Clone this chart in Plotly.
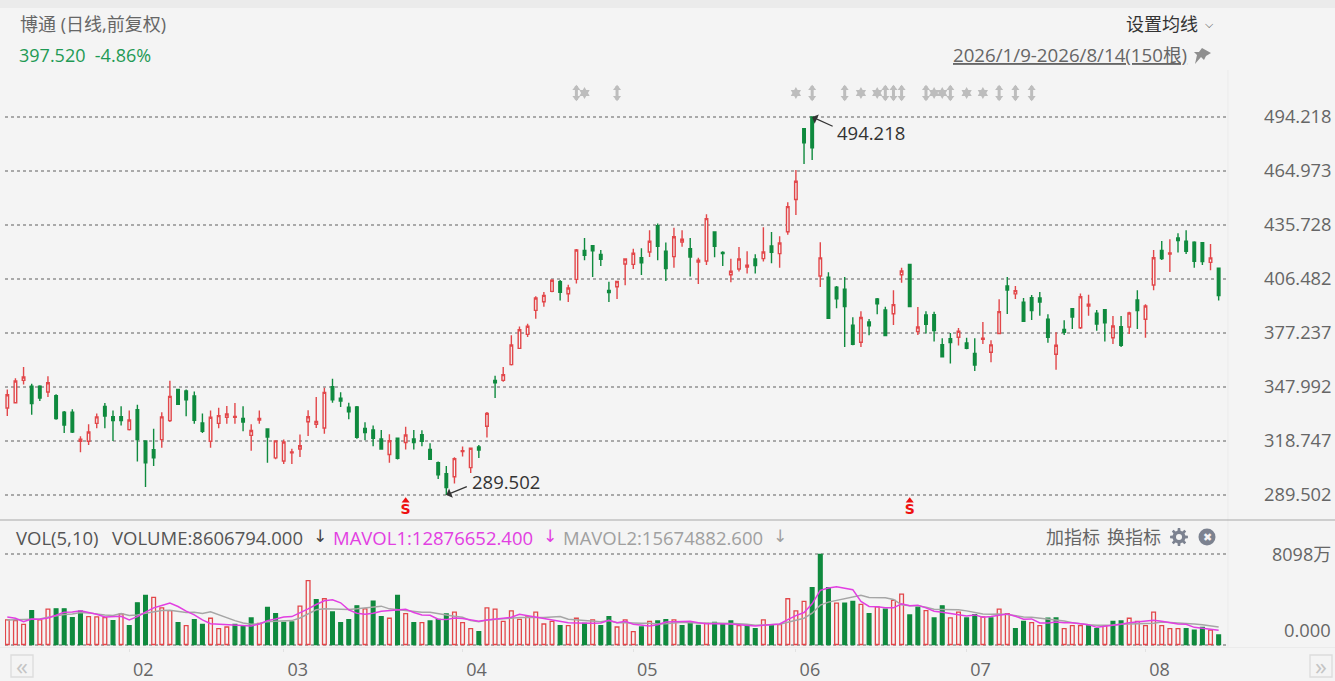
import math
import plotly.graph_objects as go

W, H = 1335, 681
FONT = "Open Sans, Noto Sans CJK SC"

price_ticks = [289.502, 318.747, 347.992, 377.237, 406.482, 435.728, 464.973, 494.218]
month_labels = ["02", "03", "04", "05", "06", "07", "08"]
month_first_bar = [16, 35, 57, 78, 98, 119, 141]
bar_no = list(range(1, 151))

open_ = [336.6,339.5,351.6,348.4,348.4,345.3,343.3,334.3,334.3,318.6,
318.6,328.3,337.5,331.9,331.9,324.9,335.7,318.8,314.1,319.5,
329.8,346.6,345.8,343.1,328.5,318.6,328.3,331.6,331.6,330.9,
321.8,330.1,325.3,309.6,307.9,312.3,314.4,329.2,327.8,325.8,
348.2,341.9,337,337.2,325.6,324.7,319.8,311.4,320.2,317.9,
319.8,322.2,314.2,307,301.1,299.4,313,304.3,315.5,326.7,
351.6,351.6,360.1,368.9,376.5,389.5,394.2,399.8,405,398.5,
406.3,422,424.5,419.8,400.3,402.3,414.6,414.4,418,421.1,
435.4,421.5,418.6,426.5,422.9,415.7,416.2,431.9,420.8,408.8,
411.9,413,417.3,417.5,424.4,420.2,432.1,449.5,487.9,494.2,
408.1,407.4,402,400.9,381.4,372.2,383.2,395.7,389.7,387.7,
408.8,414.4,378,387,387.2,370.9,374.2,374.9,371.8,366.1,
373.8,366.8,377,402.7,398.4,393.9,396.4,396.2,384.7,365.7,
379.2,390.4,380.1,391.9,387.9,389.9,374.7,380.7,380.5,395.1,
384.7,403.2,422,420,428.7,426.9,426.4,426.2,415.5,412.3]
close = [343.8,351.2,353.4,339,342,350.3,330.9,327.4,323.6,319.7,
323.6,331.8,332.3,329.8,329.8,330.1,319.5,307,309.6,331.8,
342.9,338.6,341.1,330,324,331.6,332.5,333.4,332.1,329,
324.4,330.9,320.9,318.8,318.2,312.8,316.2,331.9,329.4,345.1,
341,340.4,334.6,320.7,323.3,320.2,314.4,318.9,309.4,322,
317.9,318.6,308.8,300.5,293.5,309.2,313.5,314.8,313.9,333.7,
350.2,354.7,370.7,379,380.9,396.2,397.6,405.8,399.3,401.6,
422.2,419.3,421.8,417.1,399.1,405.1,417.3,420.4,415.3,426.9,
424.2,412.1,429.4,428,418.4,416.6,439.2,424.2,420.2,410.7,
417.3,413.9,413.7,421.1,420.9,426,445.7,459.4,480.3,477.6,
417.9,385.2,395.7,391.5,371.1,385.6,381.2,393.1,375.8,392.6,
410.8,391.5,380.5,382,378.5,364.4,372,378.2,368.9,359.9,
374.4,370.8,388.8,400.5,400.2,383.6,389.4,394,374.9,370.6,
377.6,385.9,396.9,392.8,382.1,382.7,381,370.6,388.1,389.4,
391.9,418,417.5,420.6,427.3,421.5,416.1,415.9,417.9,397.5]
high = [346.6,352.7,358.8,349.8,348.9,353.8,344,335,335.9,321.3,
327.8,333.6,339.3,335.2,337.5,335.2,338.4,318.8,325.4,334.3,
351.4,347.1,346.6,345.5,333.6,335.2,336.8,337.7,339.3,337.5,
327.8,335.2,325.4,318.9,319.5,314.6,322.2,335.4,342.6,347.6,
352.5,345.1,339.5,337.7,328.9,327.1,324.7,322.4,320.7,326.5,
324.7,324.5,317.5,307.6,305.2,309.9,315.7,315.1,316.6,334.5,
354.1,358.8,376,380.7,382.3,397.1,399.4,406.3,405.9,403.4,
422.7,428.7,424.9,422.2,405,405.1,417.7,422.9,423.1,432.9,
436.6,426.2,434.3,432.9,428.7,418,441.5,432.1,421.5,417.5,
423.8,421.5,419.9,434.5,431.9,429.6,448,465.5,488.1,494.2,
426.4,410.1,402.7,407.6,385.7,389,384.8,396.2,391.5,400.4,
412.6,414.8,391.3,389,388.8,374.4,377.3,380,374.6,374.4,
383.2,373.3,395.5,407.6,402.7,396.2,397.8,399.5,387.4,377.6,
384.1,390.4,398.6,398,389.7,390.3,386.5,386.5,388.8,400.4,
392.8,422.2,427.1,428,431.2,432.9,426.9,426.4,425.5,412.5]
low = [332.3,339,349.3,333,340.4,342.6,330.3,323.1,323.1,312.6,
316.6,325.6,325.6,318.8,327.2,324.4,307.7,293.9,305.2,315.1,
329,338.6,332.1,328.1,323.1,315.1,325.6,328.1,328.1,324,
313.5,328.1,307,308.8,306.3,306.3,310.1,321.5,325.8,322.7,
339.5,337.2,330.5,320,319.1,315.9,314.2,307,308.7,314.2,
314.2,315.9,308.5,298.2,289.5,295.7,310.3,301.4,309.6,320.7,
342,350.9,359.7,368.8,375.1,385,391.5,399.3,394.9,394,
404,416.6,407.6,413.5,394,395.7,403.1,411.9,408.7,418.4,
416.6,405.4,412.6,424,407.8,403.8,414.1,418.2,413.5,404.7,
410.5,409.4,409.4,415.9,415,412.6,430.5,441.2,468.8,470.9,
402.2,385,390.6,369.7,370.6,369.7,376,387.4,375.5,381.6,
404.5,391.3,376.2,376.9,372.7,364.1,360.7,370.4,368.4,356.7,
371.3,361.4,377,387.5,395.7,383.4,384.3,386.6,372,357.4,
376.2,379.4,379.4,386.6,378.5,372.7,371.3,369.7,376.7,379.4,
374.6,400.4,416.8,410.3,420.8,420,412.6,414.1,411.2,394.9]

# volumes in units of 10,000 shares (万)
volume = [2205,2144,1812,3050,2205,3171,3201,3201,2416,2990,
2507,2476,2416,2144,2748,1691,3745,4409,4228,3292,
3050,1963,1691,2235,1812,2356,1419,1570,1812,1691,
2386,1903,3322,2778,1993,2023,3443,5738,4017,4107,
2929,1963,2235,3473,3201,3896,2507,2356,4409,2778,
1963,1963,2114,2265,2748,2899,1963,1419,1148,3292,
3171,2084,3020,2265,2476,2899,1842,2084,1691,1691,
2356,1903,2205,1691,2507,1570,2205,1148,1570,2084,
2114,2235,2205,1691,1993,1721,1903,1993,1842,2114,
1691,1691,1419,2205,1691,1782,4107,3020,3866,5104,
8098,5104,3715,3715,3866,3594,2778,3382,3171,3956,
4530,2658,3352,3050,2386,3473,2386,2899,2386,2688,
2476,2386,3171,2778,1419,2084,1963,1691,2356,2386,
1419,1691,1691,1691,1419,1691,2084,2114,2356,2084,
1691,2899,1691,1419,1419,1419,1299,1540,1299,861]
volume_side = ("RRRGRRGGGG" "RRRGRGGGRR" "RGRGGRRRGG" "GRGGGGRRGR" "GGGGRGGRGR"
               "GRGGGRRRGR" "RRRRRRRRGR" "RGRGGRRRGR" "GGRGGGRGGG" "RGGRGRRRRG"
               "GGRGGRGRGR" "RGGRGGRRGG" "RGRRGGRRGG" "RRRGGRGGRR" "RRRRRGGGRG")
mavol1 = [2476,2356,2054,2295,2265,2386,2627,2899,2929,3020,
2869,2718,2476,2476,2537,2205,2507,2899,3292,3503,
3715,3413,2990,2658,2205,1872,1842,1782,1752,1691,
1661,1842,2144,2295,2476,2507,2839,3201,3594,3926,
4017,3745,3111,2809,2718,2809,2990,3050,3111,3171,
2869,2658,2627,2265,2235,2386,2325,2205,2084,2205,
2295,2325,2446,2718,2597,2507,2386,2265,2144,1963,
1933,1903,1903,1933,2174,1963,2084,1812,1721,1661,
1782,2023,2054,2084,2084,1963,1872,1872,1872,1842,
1782,1721,1661,1721,1782,1842,2235,2597,2869,3654,
4862,5074,5194,5074,4923,3866,3413,3382,3292,3292,
3654,3473,3533,3292,2990,2899,2809,2688,2567,2658,
2446,2507,2658,2748,2537,2265,2295,1933,1933,2023,
1963,1963,1872,1782,1540,1631,1691,1812,1963,2054,
2084,2174,2084,1963,1842,1812,1540,1450,1389,1288]
mavol2 = [2205,2235,2265,2295,2295,2446,2597,2688,2748,2869,
2839,2718,2658,2597,2778,2597,2658,2809,2929,3050,
3080,2960,2869,2899,2778,2929,2658,2416,2144,1933,
1812,1872,2054,2084,2084,2144,2386,2778,3111,3201,
3171,3141,3141,3201,3292,3413,3443,3201,3111,3050,
2929,2899,2899,2748,2658,2537,2446,2144,2054,2205,
2265,2325,2356,2416,2416,2386,2416,2476,2507,2265,
2205,2144,2144,2054,2144,1963,1963,1903,1903,1903,
1842,1872,1963,1993,1963,1903,1903,1933,1933,1933,
1872,1812,1721,1752,1782,1812,1993,2205,2356,2809,
3533,3805,3956,4107,4319,4409,4228,4228,4198,4047,
3564,3473,3473,3352,3171,3141,3141,3111,3020,2869,
2748,2718,2748,2688,2567,2476,2446,2356,2265,2235,
2114,1963,1842,1782,1721,1721,1752,1812,1842,1872,
1872,1903,2023,1993,1963,1933,1842,1782,1691,1567]

arrow_event_bars = [71, 76, 100, 104, 109, 110, 111, 114, 117, 123, 125, 127]
burst_event_bars = [72, 98, 106, 108, 115, 116, 119, 121]
signal_bars = [50, 112]
high_bar, high_value = 100, 494.218
low_bar, low_value = 55, 289.502
volume_max = 8098

RED, GREEN, BG = "#e2474a", "#0f8a3e", "#f4f4f4"
EVENT_GREY = "#bdbdbd"


def px(x):
    return x / W


def py(y):
    return 1 - y / H


def note(x, y, text, size=18, color="#666666", anchor="left", font=FONT):
    nudge = {"left": -2, "right": 2, "center": 0}[anchor]
    return dict(x=px(x + nudge), y=py(y), xref="paper", yref="paper", text=text, showarrow=False,
                xanchor=anchor, yanchor="middle", font=dict(family=font, size=size, color=color))


def path(points):
    return "M" + " L".join(f"{px(a):.5f},{py(b):.5f}" for a, b in points) + " Z"


def gear(cx, cy, r_out, r_in, teeth=8):
    pts = []
    for k in range(teeth):
        for off, r in ((-0.30, r_in), (-0.17, r_out), (0.17, r_out), (0.30, r_in)):
            a = (k + off) * 2 * math.pi / teeth
            pts.append((cx + r * math.cos(a), cy + r * math.sin(a)))
    return path(pts)


fig = go.Figure()
fig.add_trace(go.Candlestick(
    x=bar_no, open=open_, high=high, low=low, close=close, whiskerwidth=0,
    increasing=dict(line=dict(color=RED, width=1.4), fillcolor=BG),
    decreasing=dict(line=dict(color=GREEN, width=1.4), fillcolor=GREEN),
    xaxis="x", yaxis="y", showlegend=False))

event_y = 507.2
n_arrow = len(arrow_event_bars)
fig.add_trace(go.Scatter(x=arrow_event_bars, y=[event_y] * n_arrow, mode="markers",
                         marker=dict(symbol="line-ns", size=10, line=dict(color=EVENT_GREY, width=3)),
                         xaxis="x", yaxis="y", showlegend=False))
fig.add_trace(go.Scatter(x=arrow_event_bars, y=[event_y + 2.6] * n_arrow, mode="markers",
                         marker=dict(symbol="triangle-up", size=7, color=EVENT_GREY),
                         xaxis="x", yaxis="y", showlegend=False))
fig.add_trace(go.Scatter(x=arrow_event_bars, y=[event_y - 2.6] * n_arrow, mode="markers",
                         marker=dict(symbol="triangle-down", size=7, color=EVENT_GREY),
                         xaxis="x", yaxis="y", showlegend=False))
fig.add_trace(go.Scatter(x=burst_event_bars, y=[event_y] * len(burst_event_bars), mode="markers",
                         marker=dict(symbol="hexagram", size=9, color=EVENT_GREY),
                         xaxis="x", yaxis="y", showlegend=False))
fig.add_trace(go.Scatter(x=signal_bars, y=[281.2] * 2, mode="text", text=["S"] * 2,
                         textfont=dict(family="DejaVu Sans", size=14, color="#ee1111", weight="bold"),
                         xaxis="x", yaxis="y", showlegend=False))
fig.add_trace(go.Scatter(x=signal_bars, y=[286.4] * 2, mode="markers",
                         marker=dict(symbol="triangle-up", size=7, color="#ee1111"),
                         xaxis="x", yaxis="y", showlegend=False))

fig.add_trace(go.Bar(
    x=bar_no, y=volume, width=0.46, xaxis="x2", yaxis="y2", showlegend=False,
    marker=dict(color=[BG if s == "R" else GREEN for s in volume_side],
                line=dict(color=[RED if s == "R" else GREEN for s in volume_side], width=1.3))))
fig.add_trace(go.Scatter(x=bar_no, y=mavol2, mode="lines", line=dict(color="#a6a6a6", width=1.5),
                         xaxis="x2", yaxis="y2", showlegend=False))
fig.add_trace(go.Scatter(x=bar_no, y=mavol1, mode="lines", line=dict(color="#e23fe2", width=1.5),
                         xaxis="x2", yaxis="y2", showlegend=False))

annotations = [
    note(20, 24, "博通 (日线,前复权)", 18, "#666666"),
    note(19, 55, "397.520&nbsp; -4.86%", 18, "#1f9a55"),
    note(1126, 24, "设置均线", 18, "#333333"),
    note(1209, 25, "⌵", 11, "#555555", "center", "DejaVu Sans"),
    note(953, 55, "<u>2026/1/9-2026/8/14(150根)</u>", 18.7, "#666666"),
    note(16, 537, "VOL(5,10)", 18.5, "#555555"),
    note(112, 537, "VOLUME:8606794.000", 18.5, "#555555"),
    note(320, 536, "↓", 17, "#444444", "center", "DejaVu Sans"),
    note(333, 537, "MAVOL1:12876652.400", 18.5, "#e23fe2"),
    note(550, 536, "↓", 17, "#e23fe2", "center", "DejaVu Sans"),
    note(563, 537, "MAVOL2:15674882.600", 18.5, "#a0a0a0"),
    note(780, 536, "↓", 17, "#a0a0a0", "center", "DejaVu Sans"),
    note(1046, 537, "加指标", 18, "#666666"),
    note(1107, 537, "换指标", 18, "#666666"),
    note(1207, 537, "✖", 11, BG, "center", "DejaVu Sans"),
    note(1331, 554, "8098万", 18, "#666666", "right"),
    note(1331, 629, "0.000", 18.3, "#666666", "right"),
    note(22, 665, "«", 24, "#c4c4c4", "center"),
    note(1321, 665, "»", 24, "#c4c4c4", "center"),
    dict(x=high_bar, y=high_value, xref="x", yref="y", text=f"{high_value:.3f}", showarrow=False,
         xanchor="left", yanchor="middle", xshift=23, yshift=-15,
         font=dict(family=FONT, size=18.5, color="#333333")),
    dict(x=high_bar, y=high_value, xref="x", yref="y", text="", showarrow=True, ax=22, ay=10,
         arrowhead=1, arrowsize=1.4, arrowwidth=1.2, arrowcolor="#333333"),
    dict(x=low_bar, y=low_value, xref="x", yref="y", text=f"{low_value:.3f}", showarrow=False,
         xanchor="left", yanchor="middle", xshift=24, yshift=14,
         font=dict(family=FONT, size=18.5, color="#333333")),
    dict(x=low_bar, y=low_value, xref="x", yref="y", text="", showarrow=True, ax=22, ay=-9,
         arrowhead=1, arrowsize=1.4, arrowwidth=1.2, arrowcolor="#333333"),
]

shapes = [
    dict(type="rect", xref="paper", yref="paper", x0=0, x1=1, y0=py(8), y1=1, fillcolor="#ebebeb", line_width=0, layer="below"),
    dict(type="line", xref="paper", yref="paper", x0=0, x1=1, y0=py(520), y1=py(520), line=dict(color="#a8a8a8", width=1.2)),
    dict(type="line", xref="paper", yref="paper", x0=px(1228), x1=px(1228), y0=py(70), y1=py(647), line=dict(color="#ebebeb", width=1), layer="below"),
    dict(type="line", xref="paper", yref="paper", x0=0, x1=1, y0=py(647.5), y1=py(647.5), line=dict(color="#ebebeb", width=1), layer="below"),
    dict(type="path", xref="paper", yref="paper", fillcolor="#7c8290", line_width=0, path=gear(1179, 537, 9, 6.5)),
    dict(type="circle", xref="paper", yref="paper", x0=px(1176), x1=px(1182), y0=py(534), y1=py(540), fillcolor=BG, line_width=0),
    dict(type="circle", xref="paper", yref="paper", x0=px(1198.5), x1=px(1215.5), y0=py(528.5), y1=py(545.5), fillcolor="#7c8290", line_width=0, layer="below"),
    dict(type="rect", xref="paper", yref="paper", x0=px(11), x1=px(33), y0=py(677), y1=py(655), line=dict(color="#dcdcdc", width=1.3)),
    dict(type="rect", xref="paper", yref="paper", x0=px(1310), x1=px(1332), y0=py(677), y1=py(655), line=dict(color="#dcdcdc", width=1.3)),
    dict(type="path", xref="paper", yref="paper", fillcolor="#8f8f8f", line_width=0,
         path=path([(1202, 48), (1211, 53), (1206, 56), (1204, 60), (1201, 57), (1195, 64), (1197, 55), (1194, 52), (1199, 52)])),
]

fig.update_layout(
    width=W, height=H, autosize=False, margin=dict(l=0, r=0, t=0, b=0, autoexpand=False),
    paper_bgcolor=BG, plot_bgcolor=BG, showlegend=False, boxgap=0.55,
    font=dict(family=FONT, size=18, color="#666666"),
    xaxis=dict(domain=[px(5), px(1228)], range=[0.717, 151.15], showgrid=False, zeroline=False,
               showticklabels=False, ticks="", rangeslider=dict(visible=False), anchor="y", fixedrange=True),
    yaxis=dict(domain=[py(520), py(60)], range=[275.96, 525.09], side="right", anchor="x",
               tickmode="array", tickvals=price_ticks, ticktext=[f"{v:.3f}" for v in price_ticks],
               showgrid=True, gridcolor="#a9a9a9", gridwidth=1.6, griddash="3px,3px", zeroline=False,
               ticks="", ticklabelstandoff=35, tickfont=dict(family=FONT, size=18.3, color="#666666")),
    xaxis2=dict(domain=[px(5), px(1228)], range=[0.717, 151.15], showgrid=False, zeroline=False, anchor="y2",
                tickmode="array", tickvals=month_first_bar, ticktext=month_labels, ticks="outside", ticklen=3,
                tickcolor="#e2e2e2", ticklabelshift=14, ticklabelstandoff=3,
                tickfont=dict(family=FONT, size=18, color="#666666")),
    yaxis2=dict(domain=[py(647.5), py(530)], range=[-269, 10280], side="right", anchor="x2",
                tickmode="array", tickvals=[0, volume_max], showticklabels=False, showgrid=True,
                gridcolor="#a9a9a9", gridwidth=1.6, griddash="3px,3px", zeroline=False, ticks=""),
    annotations=annotations, shapes=shapes,
)

fig.write_html("out.html", config=dict(displayModeBar=False),
               post_script="document.body.style.margin='0';document.body.style.overflow='hidden';")
